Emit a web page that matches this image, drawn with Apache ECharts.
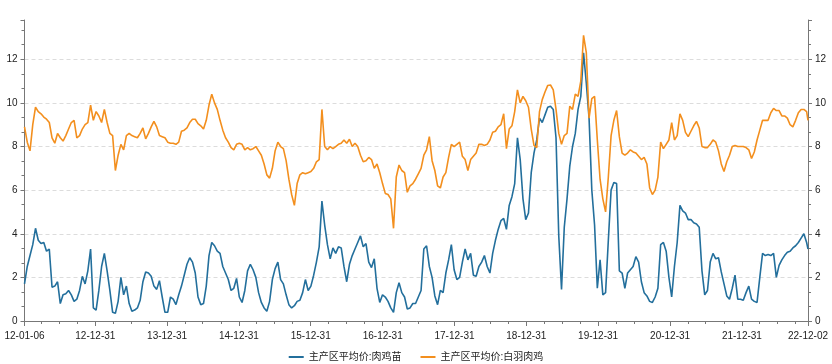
<!DOCTYPE html>
<html>
<head>
<meta charset="utf-8">
<script src="https://cdn.jsdelivr.net/npm/echarts@6/dist/echarts.min.js"></script>
<style>html,body{margin:0;padding:0;background:#fff}#c{width:832px;height:364px}</style>
</head>
<body>
<div id="c"></div>
<script>
// ---- data ----
const startDate = '2012-01-06';
const stepDays = 14;
const endDate = '2022-12-02';
const seriesNames = ['主产区平均价:肉鸡苗', '主产区平均价:白羽肉鸡'];

// 主产区平均价:肉鸡苗 (biweekly samples, last value = endDate)
const chickPrice = [
1.7,2.5,3.0,3.5,4.25,3.7,3.55,3.6,3.2,3.3,
1.55,1.6,1.8,0.8,1.2,1.25,1.4,1.2,0.9,1.0,
1.4,2.05,1.7,2.3,3.3,0.6,0.5,1.4,2.5,3.1,
2.3,1.4,0.4,0.35,0.9,2.0,1.2,1.6,0.8,0.45,
0.5,0.6,0.95,1.8,2.25,2.2,2.05,1.6,1.45,1.85,
1.1,0.4,0.4,1.1,1.0,0.75,1.2,1.6,2.1,2.6,
2.9,2.7,2.2,1.1,0.75,0.8,1.6,3.0,3.6,3.45,
3.2,3.1,2.5,2.2,1.9,1.4,1.5,1.95,1.1,0.85,
1.4,2.3,2.6,2.35,2.0,1.3,0.85,0.6,0.45,0.9,
1.9,2.4,2.7,1.9,1.7,1.2,0.75,0.6,0.7,0.9,
0.95,1.3,1.9,1.4,1.6,2.1,2.7,3.4,5.5,4.4,
3.5,2.85,3.35,3.1,3.4,3.35,2.5,1.8,2.6,3.0,
3.3,3.6,3.9,3.4,3.55,2.7,2.45,2.85,1.5,0.85,
1.2,1.1,0.9,0.6,0.4,1.3,1.75,1.3,1.1,0.55,
0.6,0.8,0.8,1.1,1.4,3.3,3.45,2.5,2.0,1.15,
0.75,1.4,1.3,2.2,2.8,3.5,2.35,1.9,2.0,2.7,
3.3,2.8,3.1,2.1,2.05,2.5,2.7,3.0,2.5,2.2,
3.1,3.7,4.2,4.6,4.7,4.2,5.3,5.7,6.3,8.4,
7.4,5.6,4.65,4.95,6.8,7.7,8.3,9.3,9.1,9.45,
9.8,9.85,9.7,8.4,3.9,1.45,4.3,5.6,7.1,8.0,
8.6,9.7,10.3,12.3,10.9,9.3,6.0,4.4,1.5,2.8,
1.2,1.3,3.7,6.0,6.35,6.3,2.3,2.2,1.5,2.2,
2.35,2.5,2.95,2.7,1.8,1.3,1.15,0.9,0.85,1.1,
1.5,3.5,3.6,3.2,2.0,1.1,2.5,3.6,5.3,5.05,
4.95,4.65,4.65,4.5,4.45,4.3,2.3,1.2,1.4,2.7,
3.1,2.85,2.9,2.25,1.7,1.15,1.0,1.5,2.1,1.0,
1.0,0.95,1.3,1.6,1.0,0.9,0.85,2.0,3.1,3.0,
3.05,3.0,3.1,2.0,2.55,2.8,3.0,3.15,3.2,3.35,
3.45,3.6,3.8,4.0,3.6,
3.3
];

// 主产区平均价:白羽肉鸡
const broilerPrice = [
8.9,8.2,7.8,9.0,9.8,9.6,9.5,9.35,9.25,9.1,
8.4,8.15,8.6,8.4,8.25,8.5,8.8,9.1,9.2,8.4,
8.5,8.8,9.0,9.1,9.9,9.2,9.6,9.4,9.1,9.7,
9.1,8.6,8.5,6.9,7.6,8.1,7.85,8.5,8.6,8.5,
8.45,8.4,8.6,8.85,8.35,8.6,8.9,9.15,8.9,8.5,
8.45,8.4,8.2,8.15,8.15,8.1,8.2,8.7,8.75,8.85,
9.1,9.25,9.25,9.05,8.95,8.8,9.2,9.9,10.4,10.0,
9.7,9.2,8.75,8.4,8.2,7.95,7.85,8.1,8.15,8.1,
7.85,7.95,7.85,7.9,8.0,7.8,7.6,7.2,6.7,6.55,
7.0,7.8,8.2,8.0,7.9,7.35,6.5,5.8,5.3,6.3,
6.7,6.8,6.75,6.8,6.85,7.0,7.3,7.4,9.7,8.0,
7.85,8.0,7.9,8.0,8.1,8.15,8.3,8.15,8.33,8.0,
8.15,8.0,7.6,7.3,7.35,7.5,7.4,7.0,7.2,6.8,
6.3,5.85,5.8,5.6,4.25,6.6,7.15,6.9,6.8,5.9,
6.2,6.3,6.5,6.75,7.0,7.6,7.85,8.45,7.35,6.9,
6.2,6.1,6.6,6.8,7.5,8.1,8.0,8.1,8.2,7.55,
7.4,6.9,7.4,7.55,7.7,8.1,8.1,8.05,8.1,8.3,
8.65,8.7,8.9,9.0,9.5,7.9,8.8,8.95,9.6,10.6,
10.0,10.3,10.1,9.8,8.8,8.05,7.95,9.6,10.15,10.5,
10.8,10.82,10.6,9.7,8.6,8.1,8.5,8.6,9.85,9.7,
10.4,10.3,11.0,13.1,12.3,9.3,10.2,10.3,8.3,6.5,
5.6,5.0,6.6,8.5,9.2,9.65,8.45,7.7,7.6,7.7,
7.85,7.75,7.7,7.55,7.4,7.5,7.2,6.1,5.8,6.0,
6.6,8.2,7.9,8.1,8.3,9.1,8.3,8.5,9.5,9.2,
8.65,8.45,8.7,8.95,9.15,8.85,8.0,7.95,7.95,8.1,
8.3,8.2,7.8,7.2,6.85,7.3,7.6,8.0,8.05,8.0,
8.0,8.0,7.95,7.85,7.45,7.75,8.3,8.75,9.2,9.2,
9.2,9.55,9.75,9.65,9.65,9.4,9.4,9.3,9.0,8.9,
9.2,9.55,9.7,9.7,9.6,
9.2
];

// x-axis tick labels and their dates
const tickDates = ['2012-01-06','2012-12-31','2013-12-31','2014-12-31','2015-12-31','2016-12-31',
  '2017-12-31','2018-12-31','2019-12-31','2020-12-31','2021-12-31','2022-12-02'];
const tickLabels = ['12-01-06','12-12-31','13-12-31','14-12-31','15-12-31','16-12-31',
  '17-12-31','18-12-31','19-12-31','20-12-31','21-12-31','22-12-02'];
const minorTickDays = ['03-31','06-30','09-30'];
const yTicks = [0, 2, 4, 6, 8, 10, 12];

// ---- build ----
function ts(s) { const p = s.split('-').map(Number); return Date.UTC(p[0], p[1] - 1, p[2]); }
const t0 = ts(startDate), t1 = ts(endDate);
const dates = [];
for (let i = 0; i < chickPrice.length - 1; i++) dates.push(t0 + i * stepDays * 86400000);
dates.push(t1);

const majorTs = tickDates.map(ts);
const minorTs = [];
for (let y = 2012; y <= 2022; y++) {
  minorTickDays.forEach(md => { const t = ts(y + '-' + md); if (t > t0 && t < t1) minorTs.push(t); });
}

const blue = '#236f9c', orange = '#f38f1e';
const font = '"Liberation Sans", "Noto Sans CJK SC", sans-serif';
const axisColor = '#777';

function yAxisDef(pos, showSplit) {
  return {
    type: 'value', position: pos, min: 0, max: 13.8, interval: 2,
    axisLine: { show: true, lineStyle: { color: axisColor, width: 1 } },
    axisTick: { show: true, length: 4, lineStyle: { color: axisColor } },
    minorTick: { show: true, splitNumber: 3, length: 3, lineStyle: { color: axisColor } },
    axisLabel: {
      color: '#222', fontSize: 10, fontFamily: font, margin: 7, showMaxLabel: false,
      formatter: v => (yTicks.indexOf(v) >= 0 ? String(v) : '')
    },
    splitLine: showSplit ? { show: true, showMaxLine: false, lineStyle: { color: '#dcdcdc', type: [4, 3], width: 1 } } : { show: false },
    minorSplitLine: { show: false }
  };
}

function nearestLabel(v) {
  let bi = 0, bd = Infinity;
  majorTs.forEach((t, i) => { const d = Math.abs(t - v); if (d < bd) { bd = d; bi = i; } });
  return tickLabels[bi];
}

const chart = echarts.init(document.getElementById('c'), null, { renderer: 'canvas' });
chart.setOption({
  animation: false,
  backgroundColor: '#fff',
  textStyle: { fontFamily: font },
  grid: { left: 24.5, right: 24, top: 20, bottom: 43, containLabel: false, outerBoundsMode: 'none' },
  legend: {
    top: 347, left: 'center', itemWidth: 15, itemHeight: 2, itemGap: 19, icon: 'rect',
    textStyle: { fontSize: 10, color: '#222', fontFamily: font },
    data: seriesNames
  },
  xAxis: [
    {
      type: 'value', min: t0, max: t1, position: 'bottom',
      axisLine: { show: true, lineStyle: { color: axisColor } },
      axisTick: { show: true, length: 5, customValues: majorTs, lineStyle: { color: axisColor } },
      axisLabel: {
        show: true, customValues: majorTs, color: '#222', fontSize: 10, fontFamily: font, margin: 10,
        showMinLabel: true, showMaxLabel: true, hideOverlap: false,
        formatter: v => nearestLabel(v)
      },
      splitLine: { show: false }
    },
    {
      type: 'value', min: t0, max: t1, position: 'bottom', offset: 0,
      axisLine: { show: false },
      axisTick: { show: true, length: 3, customValues: minorTs, lineStyle: { color: axisColor } },
      axisLabel: { show: false },
      splitLine: { show: false }
    }
  ],
  yAxis: [yAxisDef('left', true), yAxisDef('right', false)],
  series: [
    {
      name: seriesNames[0], type: 'line', xAxisIndex: 0, yAxisIndex: 0,
      data: dates.map((d, i) => [d, chickPrice[i]]),
      showSymbol: false, symbol: 'none', lineStyle: { color: blue, width: 1.6 }, itemStyle: { color: blue }
    },
    {
      name: seriesNames[1], type: 'line', xAxisIndex: 0, yAxisIndex: 0,
      data: dates.map((d, i) => [d, broilerPrice[i]]),
      showSymbol: false, symbol: 'none', lineStyle: { color: orange, width: 1.6 }, itemStyle: { color: orange }
    }
  ]
});
</script>
</body>
</html>
